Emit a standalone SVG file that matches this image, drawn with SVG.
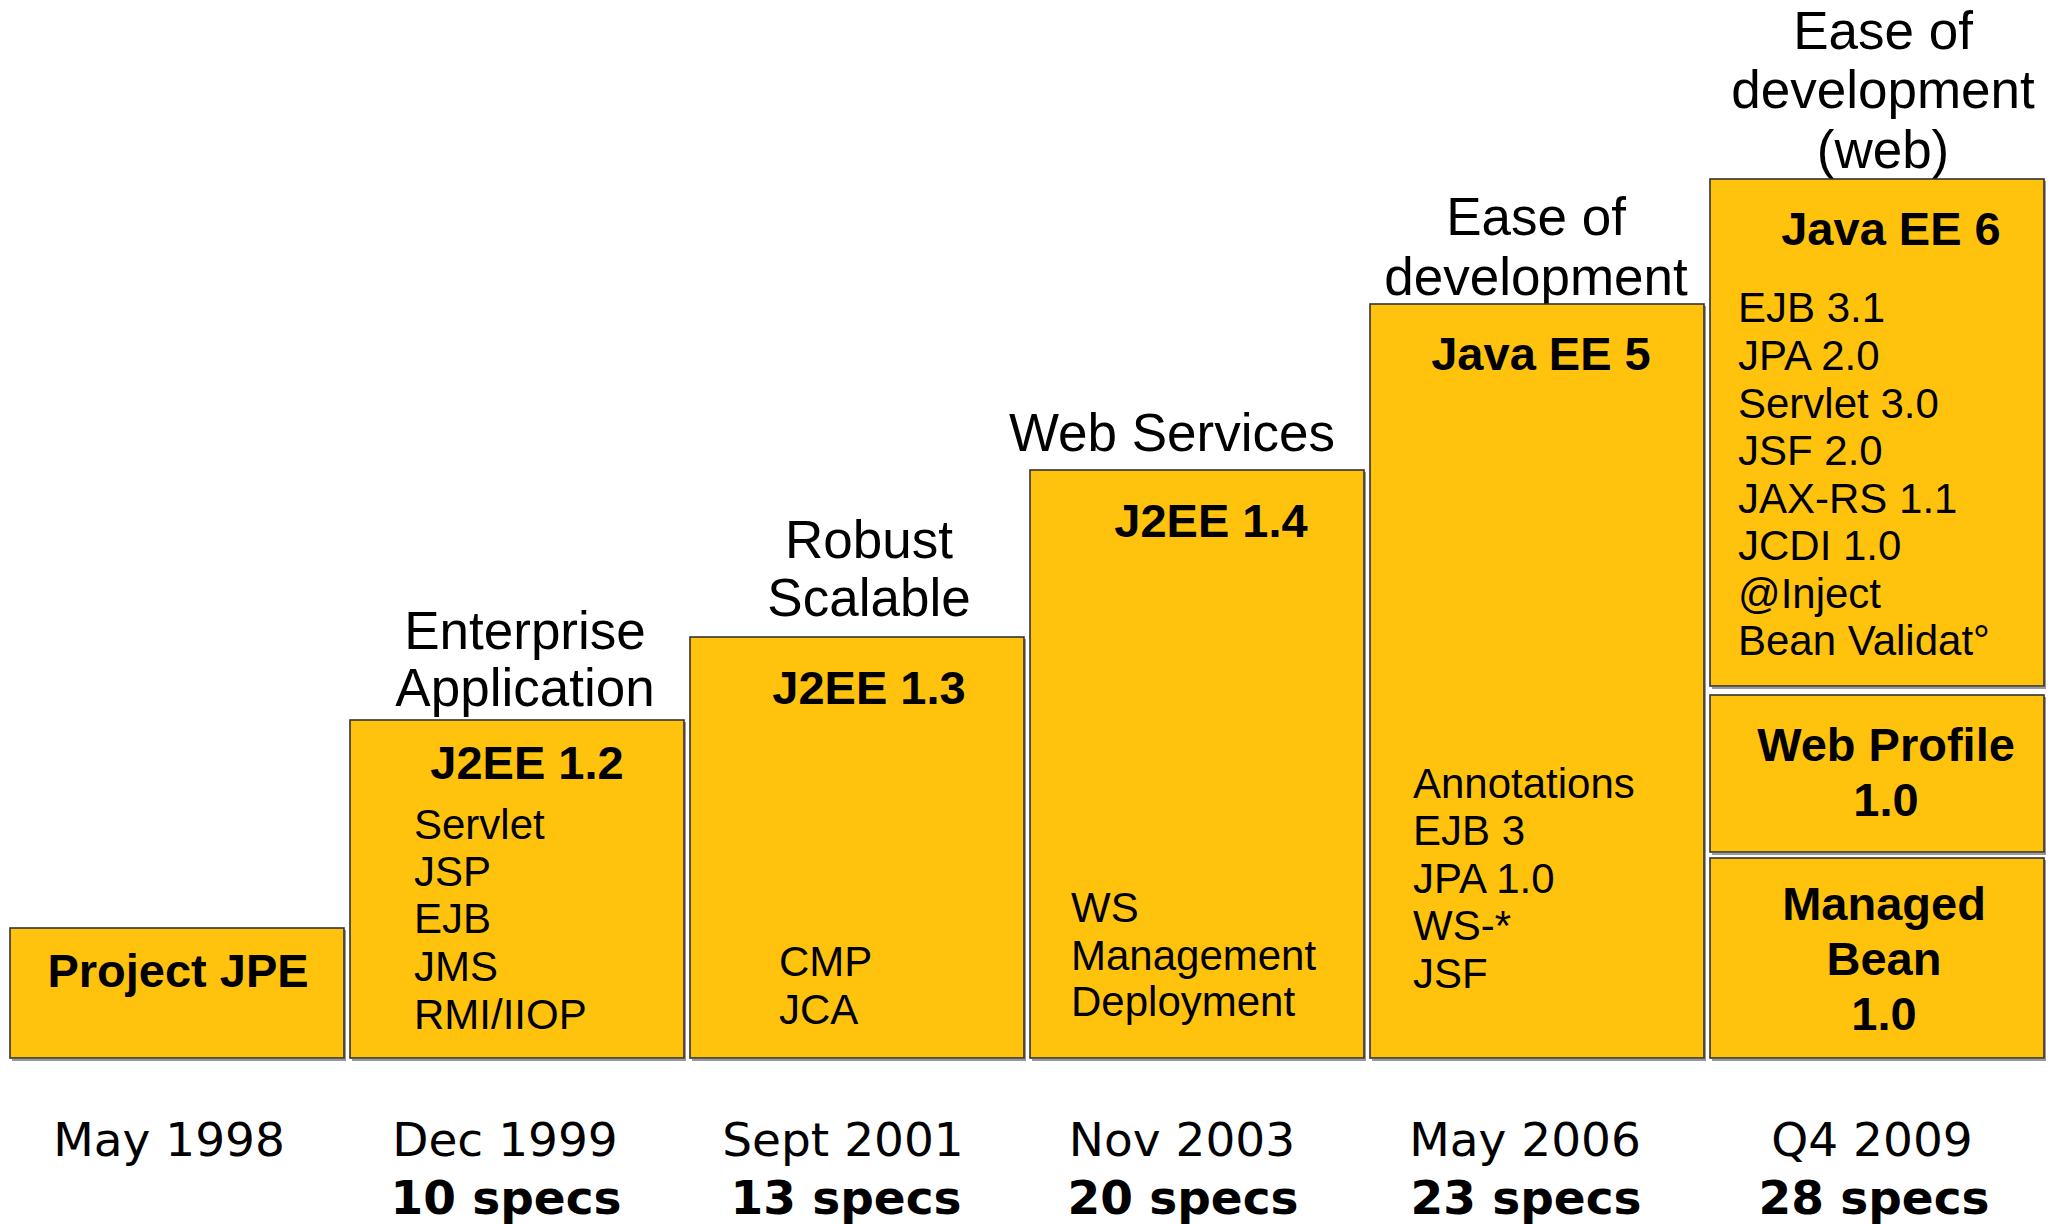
<svg xmlns="http://www.w3.org/2000/svg" width="2052" height="1224" viewBox="0 0 2052 1224">
<style>
.box{fill:#FFC30D;stroke:#333;stroke-width:1.6}
.sh{fill:none;stroke:#9a9a9a;stroke-width:2}
.hd{font-family:"Liberation Sans",Arial,sans-serif;font-size:53px;fill:#000;text-anchor:middle}
.ti{font-family:"Liberation Sans",Arial,sans-serif;font-size:47px;font-weight:bold;fill:#000;text-anchor:middle}
.bd{font-family:"Liberation Sans",Arial,sans-serif;font-size:42px;fill:#000}
.dt{font-family:"DejaVu Sans",Verdana,sans-serif;font-size:47px;fill:#000;text-anchor:middle}
.sp{font-family:"DejaVu Sans",Verdana,sans-serif;font-size:47px;font-weight:bold;fill:#000;text-anchor:middle}
</style>
<rect width="2052" height="1224" fill="#fff"/>
<g id="connectors"></g>

<g id="jpe">
<path class="sh" d="M345 930 V1060 H12"/>
<rect class="box" x="10" y="928" width="334" height="130"/>
<text class="ti" x="178" y="987">Project JPE</text>
<text class="dt" x="169" y="1156">May 1998</text>
</g>

<g id="j2ee12">
<text class="hd" x="525" y="649">Enterprise</text>
<text class="hd" x="525" y="706">Application</text>
<path class="sh" d="M685 722 V1060 H352"/>
<rect class="box" x="350" y="720" width="334" height="338"/>
<text class="ti" x="527" y="779">J2EE 1.2</text>
<text class="bd" x="414" y="839">Servlet</text>
<text class="bd" x="414" y="886">JSP</text>
<text class="bd" x="414" y="933">EJB</text>
<text class="bd" x="414" y="981">JMS</text>
<text class="bd" x="414" y="1029">RMI/IIOP</text>
<text class="dt" x="505" y="1156">Dec 1999</text>
<text class="sp" x="506" y="1214">10 specs</text>
</g>

<g id="j2ee13">
<text class="hd" x="869" y="558">Robust</text>
<text class="hd" x="869" y="616">Scalable</text>
<path class="sh" d="M1025 639 V1060 H692"/>
<rect class="box" x="690" y="637" width="334" height="421"/>
<text class="ti" x="869" y="704">J2EE 1.3</text>
<text class="bd" x="779" y="976">CMP</text>
<text class="bd" x="779" y="1024">JCA</text>
<text class="dt" x="843" y="1156">Sept 2001</text>
<text class="sp" x="846" y="1214">13 specs</text>
</g>

<g id="j2ee14">
<text class="hd" x="1172" y="451">Web Services</text>
<path class="sh" d="M1365 472 V1060 H1032"/>
<rect class="box" x="1030" y="470" width="334" height="588"/>
<text class="ti" x="1211" y="537">J2EE 1.4</text>
<text class="bd" x="1071" y="922">WS</text>
<text class="bd" x="1071" y="970">Management</text>
<text class="bd" x="1071" y="1016">Deployment</text>
<text class="dt" x="1182" y="1156">Nov 2003</text>
<text class="sp" x="1183" y="1214">20 specs</text>
</g>

<g id="javaee5">
<text class="hd" x="1536" y="235">Ease of</text>
<text class="hd" x="1536" y="295">development</text>
<path class="sh" d="M1705 306 V1060 H1372"/>
<rect class="box" x="1370" y="304" width="334" height="754"/>
<text class="ti" x="1541" y="370">Java EE 5</text>
<text class="bd" x="1413" y="798">Annotations</text>
<text class="bd" x="1413" y="845">EJB 3</text>
<text class="bd" x="1413" y="893">JPA 1.0</text>
<text class="bd" x="1413" y="940">WS-*</text>
<text class="bd" x="1413" y="988">JSF</text>
<text class="dt" x="1525" y="1156">May 2006</text>
<text class="sp" x="1526" y="1214">23 specs</text>
</g>

<g id="javaee6">
<text class="hd" x="1883" y="49">Ease of</text>
<text class="hd" x="1883" y="108">development</text>
<text class="hd" x="1883" y="168">(web)</text>
<path class="sh" d="M2045 181 V688 H1712"/>
<rect class="box" x="1710" y="179" width="334" height="507"/>
<text class="ti" x="1891" y="245">Java EE 6</text>
<text class="bd" x="1738" y="322">EJB 3.1</text>
<text class="bd" x="1738" y="370">JPA 2.0</text>
<text class="bd" x="1738" y="418">Servlet 3.0</text>
<text class="bd" x="1738" y="465">JSF 2.0</text>
<text class="bd" x="1738" y="513">JAX-RS 1.1</text>
<text class="bd" x="1738" y="560">JCDI 1.0</text>
<text class="bd" x="1738" y="608">@Inject</text>
<text class="bd" x="1738" y="655">Bean Validat°</text>
<text class="dt" x="1872" y="1156">Q4 2009</text>
<text class="sp" x="1874" y="1214">28 specs</text>
</g>

<g id="webprofile">
<path class="sh" d="M2045 697 V854 H1712"/>
<rect class="box" x="1710" y="695" width="334" height="157"/>
<text class="ti" x="1886" y="761">Web Profile</text>
<text class="ti" x="1886" y="816">1.0</text>
</g>

<g id="managedbean">
<path class="sh" d="M2045 860 V1060 H1712"/>
<rect class="box" x="1710" y="858" width="334" height="200"/>
<text class="ti" x="1884" y="920">Managed</text>
<text class="ti" x="1884" y="975">Bean</text>
<text class="ti" x="1884" y="1030">1.0</text>
</g>
</svg>
